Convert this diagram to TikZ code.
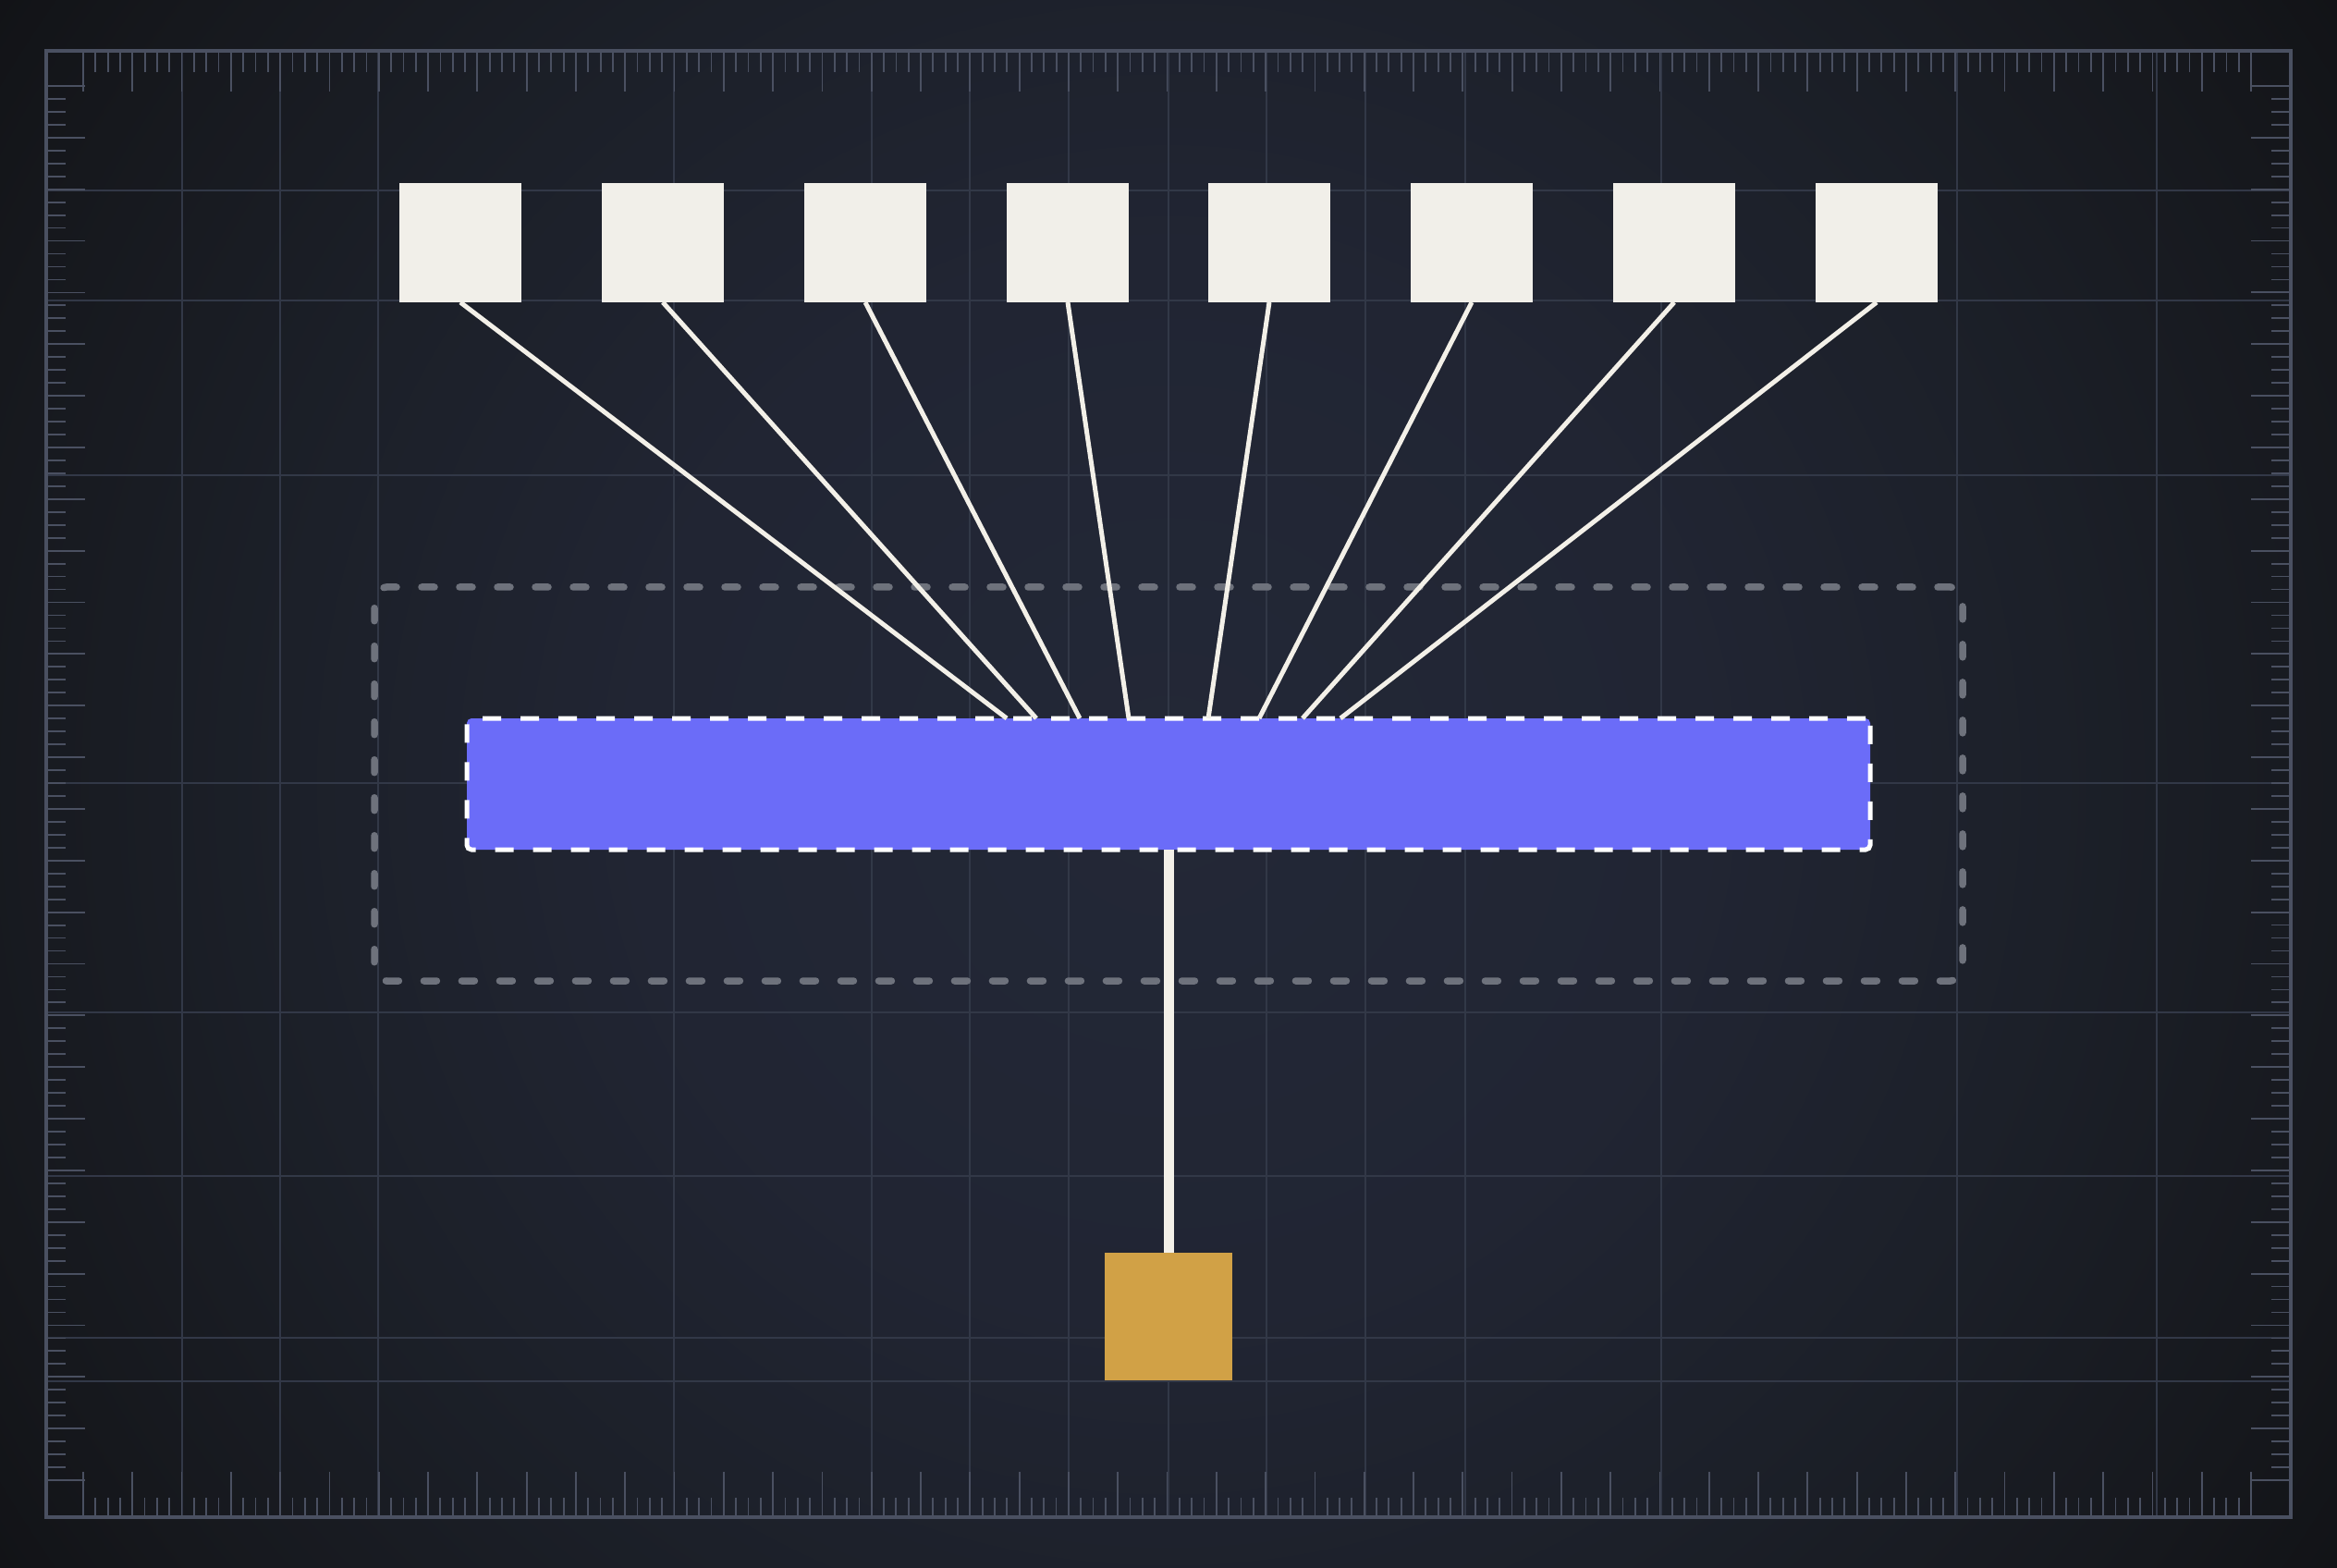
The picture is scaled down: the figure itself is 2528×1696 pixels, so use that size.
\documentclass[tikz,border=0pt]{standalone}
\usetikzlibrary{calc}
\definecolor{bgA}{HTML}{232837}
\definecolor{bgB}{HTML}{212533}
\definecolor{bgC}{HTML}{1C2029}
\definecolor{bgD}{HTML}{16181D}
\definecolor{bgE}{HTML}{101114}
\definecolor{gridc}{HTML}{323847}
\definecolor{tickc}{HTML}{4A5061}
\definecolor{boxw}{HTML}{F1EFE9}
\definecolor{connw}{HTML}{F3F0E8}
\definecolor{barc}{HTML}{6B6CF8}
\definecolor{goldc}{HTML}{D1A146}
\definecolor{grpc}{HTML}{6E727C}
\pgfdeclareradialshading{vign}{\pgfpoint{0bp}{0bp}}{color(0bp)=(bgA); color(9bp)=(bgB); color(15bp)=(bgC); color(21bp)=(bgD); color(25bp)=(bgE); color(50bp)=(bgE)}
\newlength\pxu
\setlength\pxu{0.3pt}
\tikzset{
  gridline/.style={draw=gridc, line width=1.6\pxu},
  tickline/.style={draw=tickc, line width=1.8\pxu},
  framebox/.style={draw=tickc, line width=3.2\pxu},
  whitebox/.style={fill=boxw, inner sep=0pt, outer sep=0pt, minimum width=132\pxu, minimum height=129\pxu},
  conn/.style={draw=connw, line width=5\pxu},
  vconn/.style={draw=connw, line width=11\pxu},
  barbox/.style={fill=barc, draw=white, line width=5\pxu, dash pattern=on 20\pxu off 21\pxu, rounded corners=5\pxu, inner sep=0pt, outer sep=0pt, minimum width=1518\pxu, minimum height=142\pxu},
  grpbox/.style={draw=grpc, line width=7.5\pxu, line cap=round, dash pattern=on 14\pxu off 27\pxu, rounded corners=13\pxu, inner sep=0pt, outer sep=0pt, minimum width=1718\pxu, minimum height=426\pxu},
  goldbox/.style={fill=goldc, inner sep=0pt, outer sep=0pt, minimum width=138\pxu, minimum height=138\pxu}
}
\begin{document}
\begin{tikzpicture}[x=0.3pt,y=-0.3pt]
\useasboundingbox (0,0) rectangle (2528,1696);
\begin{scope}
\clip (0,0) rectangle (2528,1696);
\shade[shading=vign] (-336,-752) rectangle (2864,2448);
\end{scope}
% grid
\foreach \gx in {197,303,409,729,943,1049,1156,1264,1370,1477,1585,1797,2117,2333}
  \draw[gridline] (\gx,57) -- (\gx,1639);
\foreach \gy in {206,325,514,847,1095,1272,1447,1494}
  \draw[gridline] (52,\gy) -- (2476,\gy);
% rulers
\foreach \i in {0,...,176} {
  \draw[tickline] ({90+\i*13.324},57) -- ++(0,21);
  \draw[tickline] ({2435-\i*13.324},1639) -- ++(0,-19);
}
\foreach \i in {0,...,44} {
  \draw[tickline] ({90+\i*53.296},57) -- ++(0,42);
  \draw[tickline] ({2435-\i*53.296},1639) -- ++(0,-47);
}
\foreach \i in {0,...,108} {
  \draw[tickline] (52,{93+\i*13.963}) -- ++(19,0);
  \draw[tickline] (2476,{1601-\i*13.963}) -- ++(-19,0);
}
\foreach \i in {0,...,27} {
  \draw[tickline] (52,{93+\i*55.852}) -- ++(40,0);
  \draw[tickline] (2476,{1601-\i*55.852}) -- ++(-41,0);
}
\draw[framebox] (50,55) rectangle (2478,1641);
% group container
\node[grpbox] (grp) at (1264,848) {};
% bar
\node[barbox] (bar) at (1264,848) {};
% boxes and connectors
\foreach \k/\bx/\ex in {1/498/1089,2/717/1121,3/936/1168,4/1155/1221,5/1373/1307,6/1592/1362,7/1811/1409,8/2030/1450} {
  \node[whitebox] (w\k) at (\bx,262.5) {};
  \coordinate (p\k) at (\ex,777);
  \draw[conn] (w\k.south) -- (p\k);
}
% gold output
\node[goldbox] (gold) at (1264,1424) {};
\draw[vconn] (bar.south) -- (gold.north);
\end{tikzpicture}
\end{document}
